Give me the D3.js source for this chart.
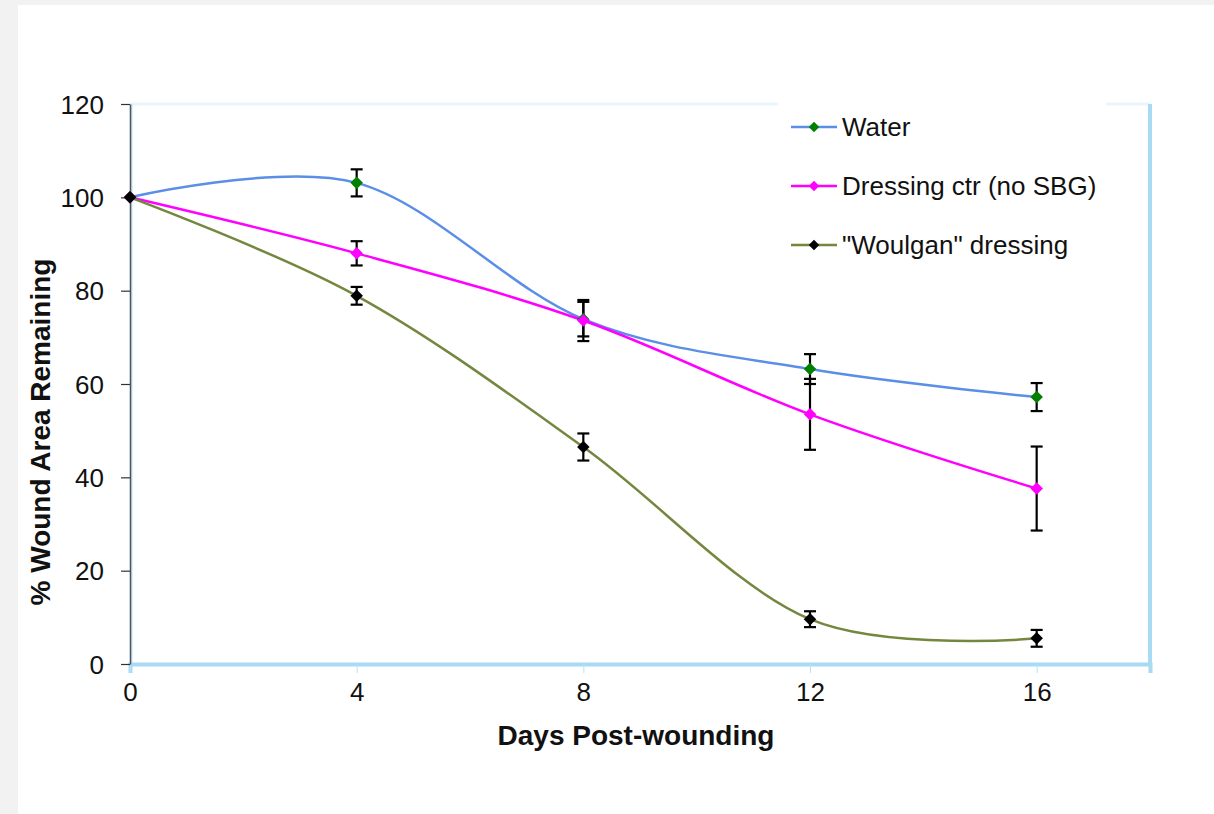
<!DOCTYPE html>
<html>
<head>
<meta charset="utf-8">
<script src="https://cdn.jsdelivr.net/npm/d3@7"></script>
<style>
  body { margin: 0; background: #f2f2f2; }
  text { font-family: "Liberation Sans", Arial, sans-serif; fill: #111; }
</style>
</head>
<body>
<div id="chart"></div>
<script>
// data
const days = [0, 4, 8, 12, 16];
const water = [100, 103.1, 73.9, 63.2, 57.2];
const waterErr = [0, 2.9, 3.7, 3.2, 3.0];
const dressing = [100, 88.0, 73.6, 53.5, 37.6];
const dressingErr = [0, 2.6, 4.4, 7.6, 9.0];
const woulgan = [100, 78.9, 46.5, 9.6, 5.5];
const woulganErr = [0, 1.9, 2.9, 1.7, 1.8];
const xTicks = [0, 4, 8, 12, 16];
const yTicks = [0, 20, 40, 60, 80, 100, 120];
const seriesNames = ["Water", "Dressing ctr (no SBG)", "\"Woulgan\" dressing"];

const W = 1214, H = 814;
const margin = {top: 104, right: 64, bottom: 150, left: 130};
const width = W - margin.left - margin.right,
height = H - margin.top - margin.bottom;

const svg = d3.select("#chart")
.append("svg")
.attr("width", W)
.attr("height", H);

// white panel
svg.append("rect")
.attr("x", 18).attr("y", 5)
.attr("width", W - 18).attr("height", H - 5)
.attr("fill", "#fff");

const g = svg.append("g")
.attr("transform", `translate(${margin.left}, ${margin.top})`);

const x = d3.scaleLinear().domain([0, 18]).range([0, width]);
const y = d3.scaleLinear().domain([0, 120]).range([height, 0]);

// plot frame (light blue)
g.append("line").attr("x1", 0).attr("x2", width).attr("y1", 0).attr("y2", 0)
.attr("stroke", "#eaf5fd").attr("stroke-width", 3);
g.append("line").attr("x1", width).attr("x2", width).attr("y1", 0).attr("y2", height)
.attr("stroke", "#a8daf4").attr("stroke-width", 4);
g.append("line").attr("x1", 1.5).attr("x2", 1.5).attr("y1", 0).attr("y2", height)
.attr("stroke", "#c4e6f8").attr("stroke-width", 2);

// X axis
const xAxis = g.append("g")
.attr("transform", `translate(0, ${height})`)
.call(d3.axisBottom(x).tickValues(xTicks).tickSize(9).tickPadding(10));
xAxis.select(".domain").attr("stroke", "#a8daf4").attr("stroke-width", 4);
xAxis.selectAll(".tick line").attr("stroke", "#b9e1f6").attr("stroke-width", 1);
xAxis.selectAll("text").style("font-size", "26px").attr("fill", "#111")
.style("font-family", "Liberation Sans, Arial, sans-serif");

// Y axis
const yAxis = g.append("g")
.call(d3.axisLeft(y).tickValues(yTicks).tickSize(9).tickSizeOuter(0).tickPadding(17));
yAxis.select(".domain").attr("stroke", "#4a5560").attr("stroke-width", 1.5);
yAxis.selectAll(".tick line").attr("stroke", "#333").attr("stroke-width", 1.2);
yAxis.selectAll("text").style("font-size", "26px").attr("fill", "#111")
.attr("dy", "0.35em")
.style("font-family", "Liberation Sans, Arial, sans-serif");

// axis titles
svg.append("text")
.attr("x", 636).attr("y", 745)
.attr("text-anchor", "middle")
.style("font-size", "28px").style("font-weight", "bold")
.text("Days Post-wounding");

svg.append("text")
.attr("transform", "translate(50, 432) rotate(-90)")
.attr("text-anchor", "middle")
.style("font-size", "28px").style("font-weight", "bold")
.text("% Wound Area Remaining");

// legend box covers the top frame
svg.append("rect")
.attr("x", 778).attr("y", 100).attr("width", 328).attr("height", 170)
.attr("fill", "#fff");

const series = [
  {name: seriesNames[0], values: water, err: waterErr, line: "#5b8ee6", marker: "#008000"},
  {name: seriesNames[1], values: dressing, err: dressingErr, line: "#ff00ff", marker: "#ff00ff"},
  {name: seriesNames[2], values: woulgan, err: woulganErr, line: "#74873f", marker: "#000"}
];

const line = d3.line()
.x(d => x(d.day))
.y(d => y(d.v))
.curve(d3.curveCatmullRom.alpha(0));

const diamond = d3.symbol().type(d3.symbolDiamond2).size(100);

series.forEach(function(s) {
  const pts = days.map((d, i) => ({day: d, v: s.values[i], e: s.err[i]}));
  s.pts = pts;

  g.append("path")
  .datum(pts)
  .attr("d", line)
  .attr("fill", "none")
  .attr("stroke", s.line)
  .attr("stroke-width", 2.5);
});

// error bars
series.forEach(function(s) {
  const eb = g.append("g").selectAll("g")
  .data(s.pts.filter(p => p.e > 0))
  .join("g")
  .attr("stroke", "#000")
  .attr("stroke-width", 2.2);
  eb.append("line")
  .attr("x1", d => x(d.day)).attr("x2", d => x(d.day))
  .attr("y1", d => y(d.v + d.e)).attr("y2", d => y(d.v - d.e));
  eb.append("line")
  .attr("x1", d => x(d.day) - 6).attr("x2", d => x(d.day) + 6)
  .attr("y1", d => y(d.v + d.e)).attr("y2", d => y(d.v + d.e));
  eb.append("line")
  .attr("x1", d => x(d.day) - 6).attr("x2", d => x(d.day) + 6)
  .attr("y1", d => y(d.v - d.e)).attr("y2", d => y(d.v - d.e));
});

// markers
series.forEach(function(s) {
  g.append("g").selectAll("path")
  .data(s.pts)
  .join("path")
  .attr("d", diamond)
  .attr("transform", d => `translate(${x(d.day)}, ${y(d.v)})`)
  .attr("fill", s.marker);
});

// legend
const leg = svg.append("g").selectAll("g")
.data(series)
.join("g")
.attr("transform", (d, i) => `translate(791, ${127 + i * 59})`);
leg.append("line")
.attr("x1", 0).attr("x2", 46)
.attr("stroke", d => d.line).attr("stroke-width", 2.5);
leg.append("path")
.attr("d", d3.symbol().type(d3.symbolDiamond2).size(70))
.attr("transform", "translate(23, 0)")
.attr("fill", d => d.marker);
leg.append("text")
.attr("x", 51).attr("dy", "0.35em")
.style("font-size", "26px")
.text(d => d.name);
</script>
</body>
</html>
